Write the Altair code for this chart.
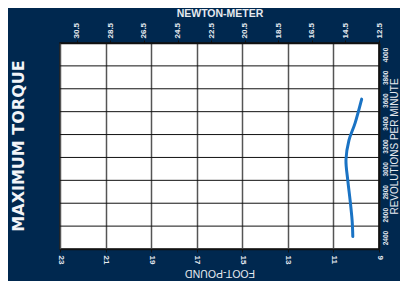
import altair as alt
import pandas as pd

# Axis tick values
ftlb_ticks = [23, 21, 19, 17, 15, 13, 11, 9]
nm_ticks = [30.5, 28.5, 26.5, 24.5, 22.5, 20.5, 18.5, 16.5, 14.5, 12.5]
rpm_ticks = [2400, 2600, 2800, 3000, 3200, 3400, 3600, 3800, 4000]
rpm_grid = [2500, 2700, 2900, 3100, 3300, 3500, 3700, 3900]

# Torque curve
curve_rpm = [2410, 2550, 2730, 2900, 3080, 3250, 3400, 3610]
curve_ftlb = [10.15, 10.18, 10.27, 10.37, 10.45, 10.32, 10.05, 9.76]

BG = "#00284f"
TXT = "#e6eaf0"
FONT = "Liberation Sans"

curve_df = pd.DataFrame({"rpm": curve_rpm, "ftlb": curve_ftlb})
grid_df = pd.DataFrame({"rpm": rpm_grid})
nm_df = pd.DataFrame({"nm": nm_ticks})

yscale = alt.Scale(domain=[2300, 4100], nice=False, zero=False)
yaxis = alt.Axis(
    orient="right", values=rpm_ticks, title="REVOLUTIONS PER MINUTE",
    titleFontSize=10, titleFontWeight="normal", titleColor=TXT, titlePadding=1,
    titleAngle=270, titleBaseline="top",
    labelAngle=270, labelFontSize=6.5, labelFontWeight="bold", labelColor=TXT,
    labelPadding=3, labelAlign="center", labelBaseline="top",
    grid=False, ticks=False, domainColor="#111111", domainWidth=2,
    format="d",
)

rules = alt.Chart(grid_df).mark_rule(color="#111111", strokeWidth=1).encode(
    y=alt.Y("rpm:Q", scale=yscale, axis=yaxis)
)

line = alt.Chart(curve_df).mark_line(
    color="#1a73c4", strokeWidth=3, interpolate="cardinal", strokeCap="round"
).encode(
    x=alt.X(
        "ftlb:Q",
        scale=alt.Scale(domain=[23, 9], nice=False, zero=False),
        axis=alt.Axis(
            orient="bottom", values=ftlb_ticks, title="FOOT-POUND", titleAngle=180,
            titleFontSize=10.5, titleFontWeight="normal", titleColor=TXT, titlePadding=14,
            labelAngle=90, labelFontSize=8, labelFontWeight="bold", labelColor=TXT,
            labelPadding=3, labelAlign="left", labelBaseline="middle",
            grid=True, gridColor="#555555", gridWidth=1.5,
            tickColor="#111111", tickSize=3, domainColor="#111111", domainWidth=1.5,
            format="d",
        ),
    ),
    y=alt.Y("rpm:Q", scale=yscale, axis=yaxis),
    order=alt.Order("rpm:Q"),
)

top = alt.Chart(nm_df).mark_point(opacity=0).encode(
    x=alt.X(
        "nm:Q",
        scale=alt.Scale(domain=[31.5, 12.5], nice=False, zero=False),
        axis=alt.Axis(
            orient="top", values=nm_ticks, title="NEWTON-METER",
            titleFontSize=10.5, titleFontWeight="bold", titleColor=TXT, titlePadding=4,
            labelAngle=270, labelFontSize=8, labelFontWeight="bold", labelColor=TXT,
            labelPadding=2, labelAlign="left", labelBaseline="middle",
            grid=False, tickColor="#111111", tickSize=3,
            domainColor="#111111", domainWidth=1.5, format=".1f",
        ),
    ),
    y=alt.value(0),
)

chart = alt.layer(rules, line, top).resolve_scale(x="independent").properties(
    width=319,
    height=206,
    padding={"left": 52, "top": 35, "right": 21, "bottom": 32},
    autosize=alt.AutoSizeParams(type="none"),
    background=BG,
    title=alt.TitleParams(
        "MAXIMUM TORQUE", orient="left", anchor="middle", fontSize=16,
        fontWeight="bold", font="DejaVu Sans", color="#f2f4f8", offset=29,
    ),
).configure_view(
    fill="white", stroke="#111111", strokeWidth=1.5
).configure_axis(
    labelFont=FONT, titleFont=FONT
)

chart.save("out.html", embed_options={"renderer": "svg", "actions": False})
